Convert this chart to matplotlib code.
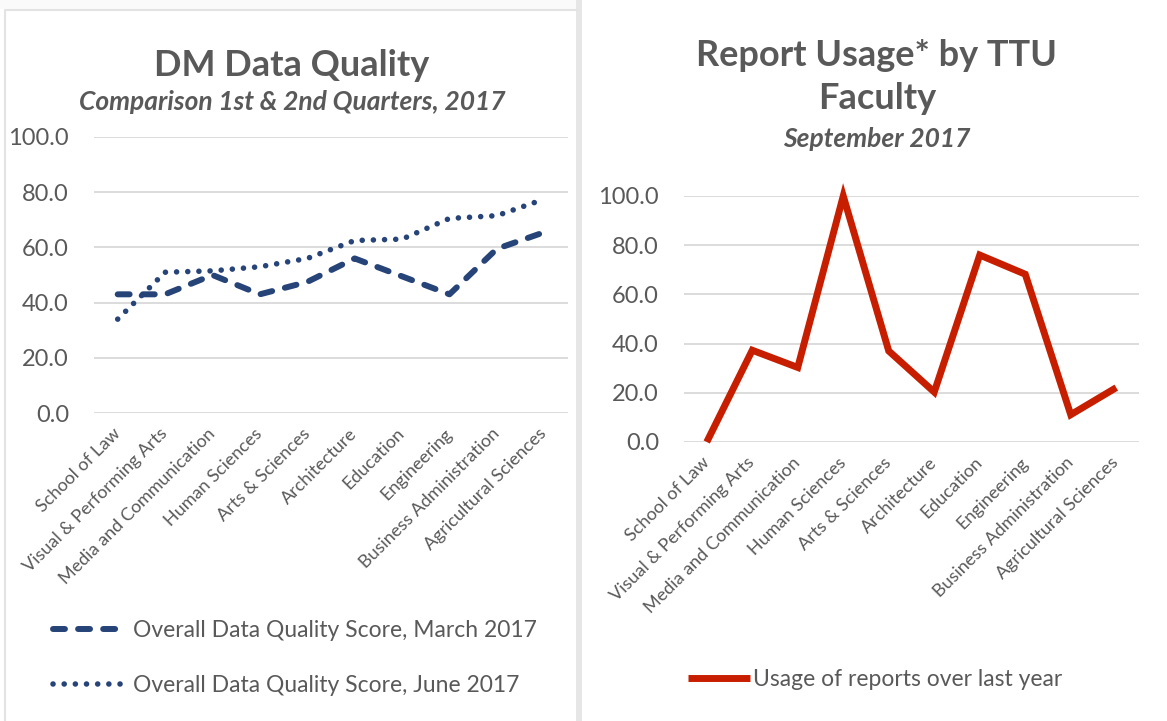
import matplotlib
matplotlib.use("Agg")
import matplotlib.pyplot as plt
from matplotlib.patches import Rectangle
from matplotlib.lines import Line2D

plt.rcParams['font.family'] = ['Lato', 'DejaVu Sans']

# data
colleges = ['School of Law', 'Visual & Performing Arts', 'Media and Communication',
            'Human Sciences', 'Arts & Sciences', 'Architecture', 'Education',
            'Engineering', 'Business Administration', 'Agricultural Sciences']
quality_march = [43.0, 43.0, 50.0, 43.0, 47.5, 56.0, 49.5, 43.0, 59.5, 65.5]
quality_june = [34.0, 51.0, 51.5, 53.0, 56.0, 62.5, 63.0, 70.5, 71.5, 77.5]
report_usage = [0.0, 37.3, 30.3, 100.0, 37.0, 20.3, 76.0, 68.2, 11.1, 22.1]
y_ticks = [0, 20, 40, 60, 80, 100]

TEXT = '#595959'
GRID = '#D9D9D9'
NAVY = '#264478'
RED = '#C81E00'

W, H = 1167, 721
fig = plt.figure(figsize=(W / 100, H / 100), dpi=100)


def px_axes(x0, x1, y_top, y_bot):
    return fig.add_axes([x0 / W, 1 - y_bot / H, (x1 - x0) / W, (y_bot - y_top) / H])


# panel decorations
fig.patches.append(Rectangle((0, 1 - 9 / H), 577 / W, 9 / H, transform=fig.transFigure,
                             facecolor='#FAFAFA', edgecolor='none', zorder=0))
fig.lines.append(Line2D([5 / W, 5 / W, 577 / W], [0, 1 - 10 / H, 1 - 10 / H],
                        transform=fig.transFigure, color='#E3E3E3', lw=1.5))
fig.patches.append(Rectangle((576 / W, 0), 6 / W, 1, transform=fig.transFigure,
                             facecolor='#E6E6E6', edgecolor='none', zorder=0))


def style_axes(ax):
    ax.set_xlim(-0.5, len(colleges) - 0.5)
    ax.set_ylim(0, 100)
    ax.set_yticks(y_ticks)
    ax.set_yticklabels([f'{v:.1f}' for v in y_ticks])
    ax.set_xticks(range(len(colleges)))
    ax.set_xticklabels(colleges, rotation=45, ha='right', va='center',
                       rotation_mode='anchor')
    ax.tick_params(axis='y', length=0, pad=18, labelsize=17, labelcolor=TEXT)
    ax.tick_params(axis='x', length=0, pad=13, labelsize=13, labelcolor=TEXT)
    for s in ax.spines.values():
        s.set_visible(False)
    ax.grid(axis='y', color=GRID, lw=1.3)
    ax.set_axisbelow(True)


# left chart
ax1 = px_axes(94, 568, 137, 413)
style_axes(ax1)
ax1.plot(range(len(colleges)), quality_march, color=NAVY, lw=4.3,
         linestyle=(0, (2.0, 2.2)), dash_capstyle='round', solid_joinstyle='round',
         label='Overall Data Quality Score, March 2017')
ax1.plot(range(len(colleges)), quality_june, color=NAVY, lw=4.0,
         linestyle=(0, (0.01, 2.0)), dash_capstyle='round',
         label='Overall Data Quality Score, June 2017')
fig.text(292 / W, 1 - 65 / H, 'DM Data Quality', ha='center', va='center',
         fontsize=26, fontweight='bold', color=TEXT)
fig.text(292 / W, 1 - 102 / H, 'Comparison 1st & 2nd Quarters, 2017', ha='center',
         va='center', fontsize=19, fontweight='bold', style='italic', color=TEXT)
fig.legend(*ax1.get_legend_handles_labels(), loc='upper left',
           bbox_to_anchor=(53 / W, 1 - 620 / H), frameon=False, borderpad=0,
           borderaxespad=0, fontsize=16.5, handlelength=3.0, handletextpad=0.5,
           labelspacing=1.47, labelcolor=TEXT)

# right chart
ax2 = px_axes(684, 1139, 196, 442)
style_axes(ax2)
ax2.plot(range(len(colleges)), report_usage, color=RED, lw=5, clip_on=False,
         solid_joinstyle='miter', solid_capstyle='butt',
         label='Usage of reports over last year')
fig.text(877 / W, 1 - 77 / H, 'Report Usage* by TTU\nFaculty', ha='center',
         va='center', fontsize=26, fontweight='bold', color=TEXT, linespacing=1.36)
fig.text(877 / W, 1 - 139 / H, 'September 2017', ha='center', va='center',
         fontsize=19, fontweight='bold', style='italic', color=TEXT)
fig.legend(*ax2.get_legend_handles_labels(), loc='upper left',
           bbox_to_anchor=(688 / W, 1 - 669 / H), frameon=False, borderpad=0,
           borderaxespad=0, fontsize=16.5, handlelength=2.7, handletextpad=0.15,
           labelcolor=TEXT)

fig.savefig('out.png', dpi=100, facecolor='white')
